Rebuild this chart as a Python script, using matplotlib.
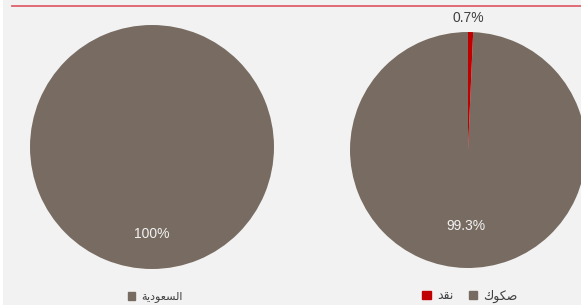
import matplotlib
matplotlib.use("Agg")
import matplotlib.pyplot as plt
from matplotlib.patches import Patch, Rectangle
from matplotlib.lines import Line2D
import numpy as np

# Arabic labels written in visual order with presentation forms (no shaping in matplotlib)
left_labels = ["\uFE94\uFEF3\uFEA9\uFEEE\uFECC\uFEB4\uFEDF\uFE8D"]   # السعودية
left_values = [100.0]
right_labels = ["\uFED9\uFEEE\uFEDC\uFEBB", "\uFEAA\uFED8\uFEE7"]      # صكوك , نقد
right_values = [99.3, 0.7]

gray = "#786c62"
red = "#c00000"
txt = "#404040"

W, H = 581, 305
fig = plt.figure(figsize=(W / 100, H / 100), dpi=100)
fig.patch.set_facecolor("#f2f2f2")

def box(cx, cy, r):
    # axes box in figure fraction from pixel centre/radius (y from top)
    return [(cx - r) / W, (H - cy - r) / H, 2 * r / W, 2 * r / H]

# white strip on the left edge and the top rule
fig.add_artist(Rectangle((0, 0), 3 / W, 1, transform=fig.transFigure, color="white", lw=0))
fig.add_artist(Line2D([12 / W, 1], [1 - 5.5 / H, 1 - 5.5 / H], color="#df5f6e", lw=1.3))

font = "DejaVu Sans"

# left pie
ax1 = fig.add_axes(box(152, 147, 122))
w1, t1, a1 = ax1.pie(left_values, colors=[gray], startangle=90, autopct="%1.0f%%",
                     pctdistance=0.71, radius=1.0, wedgeprops=dict(linewidth=0))
for a in a1:
    a.set_color("#f2f2f2")
    a.set_fontsize(10)
    a.set_family("Liberation Sans")
ax1.set_xlim(-1, 1)
ax1.set_ylim(-1, 1)
ax1.set_aspect("equal")
ax1.axis("off")

# right pie
ax2 = fig.add_axes(box(468, 150, 118))
w2, t2, a2 = ax2.pie(right_values, colors=[gray, red], startangle=90, autopct="%1.1f%%",
                     pctdistance=0.64, radius=1.0, wedgeprops=dict(linewidth=0))
for a in a2:
    a.set_color("#f2f2f2")
    a.set_fontsize(10)
    a.set_family("Liberation Sans")
# small slice label sits outside the pie
small = int(np.argmin(right_values))
ang = np.deg2rad((w2[small].theta1 + w2[small].theta2) / 2)
a2[small].set_position((1.12 * np.cos(ang) - 0.02, 1.12 * np.sin(ang)))
a2[small].set_color(txt)
a2[small].set_va("center")
ax2.set_xlim(-1, 1)
ax2.set_ylim(-1, 1)
ax2.set_aspect("equal")
ax2.axis("off")

# legends
h1 = [Patch(color=gray, label=left_labels[0])]
fig.legend(handles=h1, loc="center", bbox_to_anchor=(155 / W, 1 - 297 / H), frameon=False,
           prop={"family": font, "size": 8}, handlelength=0.7, handleheight=0.7,
           handletextpad=0.5, labelcolor=txt)

h2 = [Patch(color=red, label=right_labels[1]), Patch(color=gray, label=right_labels[0])]
fig.legend(handles=h2, loc="center", bbox_to_anchor=(470 / W, 1 - 296 / H), frameon=False,
           prop={"family": font, "size": 9}, ncol=2, handlelength=0.7, handleheight=0.7,
           handletextpad=0.5, columnspacing=1.2, labelcolor=txt)

fig.savefig("out.png", dpi=100, facecolor=fig.get_facecolor())
